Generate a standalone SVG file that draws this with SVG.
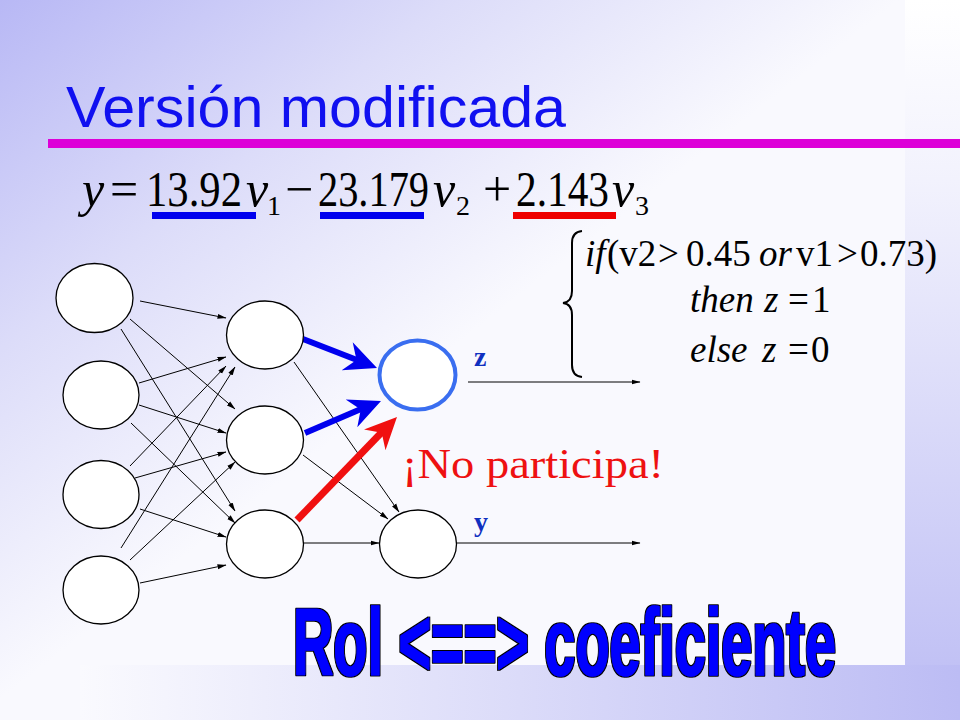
<svg xmlns="http://www.w3.org/2000/svg" width="960" height="720" viewBox="0 0 960 720">
<defs>
<linearGradient id="bg" gradientUnits="userSpaceOnUse" x1="0" y1="0" x2="339" y2="436">
<stop offset="0" stop-color="#b8b8f5"/>
<stop offset="0.5" stop-color="#dcdcf9"/>
<stop offset="1" stop-color="#f9f9fe"/>
</linearGradient>
<linearGradient id="rs" x1="0" y1="0" x2="0" y2="1">
<stop offset="0" stop-color="#ffffff"/>
<stop offset="0.25" stop-color="#f2f2fd"/>
<stop offset="1" stop-color="#bcbcf4"/>
</linearGradient>
<linearGradient id="bs" x1="0" y1="0" x2="1" y2="0">
<stop offset="0" stop-color="#fafafe"/>
<stop offset="1" stop-color="#bcbcf4"/>
</linearGradient>
<marker id="ah" markerWidth="9" markerHeight="6" refX="8.5" refY="3" orient="auto" markerUnits="userSpaceOnUse">
<path d="M0,0.5 L9,3 L0,5.5 Z" fill="#000"/>
</marker>
<filter id="outline" x="-10%" y="-30%" width="120%" height="160%">
<feMorphology in="SourceAlpha" operator="dilate" radius="1.2" result="d"/>
<feFlood flood-color="#000000"/>
<feComposite in2="d" operator="in" result="o"/>
<feMerge><feMergeNode in="o"/><feMergeNode in="SourceGraphic"/></feMerge>
</filter>
<style>
.node{fill:#ffffff;stroke:#000000;stroke-width:1.3}
.e{stroke:#000000;stroke-width:1;fill:none;marker-end:url(#ah)}
.serif{font-family:"Liberation Serif","Times New Roman",serif}
.it{font-style:italic}
</style>
</defs>

<rect x="0" y="0" width="960" height="720" fill="url(#bg)"/>
<rect x="905" y="0" width="55" height="720" fill="url(#rs)"/>
<rect x="80" y="665" width="880" height="55" fill="url(#bs)"/>

<text x="66" y="127" font-family="Liberation Sans, Arial, sans-serif" font-size="58" fill="#1010f0" textLength="500" lengthAdjust="spacingAndGlyphs">Versión modificada</text>
<rect x="48" y="139" width="912" height="9" fill="#dd00d8"/>

<g id="equation" class="serif" font-size="50" fill="#000">
<text x="82" y="206" class="it">y</text>
<text x="110" y="206">=</text>
<text x="146" y="206" textLength="96" lengthAdjust="spacingAndGlyphs">13.92</text>
<text x="246" y="206" class="it">v</text>
<text x="267" y="215" font-size="28">1</text>
<text x="285" y="206">−</text>
<text x="318" y="206" textLength="111" lengthAdjust="spacingAndGlyphs">23.179</text>
<text x="433" y="206" class="it">v</text>
<text x="456" y="215" font-size="28">2</text>
<text x="483" y="206">+</text>
<text x="516" y="206" textLength="93" lengthAdjust="spacingAndGlyphs">2.143</text>
<text x="612" y="206" class="it">v</text>
<text x="635" y="215" font-size="28">3</text>
<rect x="152" y="212" width="104" height="7" fill="#0000ee"/>
<rect x="320" y="212" width="104" height="7" fill="#0000ee"/>
<rect x="513" y="212" width="103" height="7" fill="#ee0000"/>
</g>

<g id="rule" class="serif" font-size="37" fill="#000">
<path d="M582,231 Q572,232 572,243 L572,291 Q572,302 563,303 Q572,304 572,315 L572,365 Q572,376 582,377" fill="none" stroke="#000" stroke-width="2"/>
<text y="266"><tspan x="585" class="it">if</tspan><tspan x="607">(v2</tspan><tspan x="658">&gt;</tspan><tspan x="686">0.45</tspan><tspan x="759" class="it">or</tspan><tspan x="796">v1</tspan><tspan x="837">&gt;</tspan><tspan x="860">0.73)</tspan></text>
<text y="312"><tspan x="690" class="it">then</tspan><tspan x="764" class="it">z</tspan><tspan x="788">=</tspan><tspan x="812">1</tspan></text>
<text y="362"><tspan x="690" class="it">else</tspan><tspan x="762" class="it">z</tspan><tspan x="788">=</tspan><tspan x="811">0</tspan></text>
</g>

<g id="connectors">
<line class="e" x1="140" y1="301" x2="226" y2="318"/>
<line class="e" x1="130" y1="319" x2="235" y2="409"/>
<line class="e" x1="121" y1="329" x2="235" y2="511"/>
<line class="e" x1="139" y1="383" x2="226" y2="357"/>
<line class="e" x1="139" y1="405" x2="226" y2="433"/>
<line class="e" x1="131" y1="423" x2="235" y2="523"/>
<line class="e" x1="130" y1="466" x2="226" y2="366"/>
<line class="e" x1="135" y1="478" x2="226" y2="452"/>
<line class="e" x1="140" y1="509" x2="226" y2="537"/>
<line class="e" x1="121" y1="548" x2="235" y2="367"/>
<line class="e" x1="130" y1="560" x2="235" y2="462"/>
<line class="e" x1="140" y1="583" x2="226" y2="565"/>
<line class="e" x1="294" y1="362" x2="399" y2="512"/>
<line class="e" x1="303" y1="455" x2="388" y2="519"/>
<line class="e" x1="303" y1="543" x2="379" y2="543"/>
<line class="e" x1="468" y1="382" x2="640" y2="382"/>
<line class="e" x1="457" y1="543" x2="640" y2="543"/>
<line x1="303" y1="339" x2="357" y2="360" stroke="#0000ee" stroke-width="6"/>
<polygon points="377,368 341.7,370.3 356.5,360 352.7,342.3" fill="#0000ee"/>
<line x1="305" y1="433" x2="361" y2="409" stroke="#0000ee" stroke-width="6"/>
<polygon points="381,401 357.3,427.2 360.7,409.5 345.7,399.6" fill="#0000ee"/>
<line x1="297" y1="520" x2="382" y2="432" stroke="#f01010" stroke-width="7"/>
<polygon points="397,417 385.5,450.3 381.7,432.8 364,429.5" fill="#f01010"/>
</g>

<g id="in1"><ellipse class="node" cx="94.5" cy="298" rx="38.5" ry="34.5"/></g>
<g id="in2"><ellipse class="node" cx="101" cy="395" rx="38" ry="34"/></g>
<g id="in3"><ellipse class="node" cx="101" cy="494.5" rx="38" ry="34"/></g>
<g id="in4"><ellipse class="node" cx="101" cy="590" rx="38" ry="34"/></g>
<g id="h1"><ellipse class="node" cx="265" cy="335" rx="38.5" ry="34"/></g>
<g id="h2"><ellipse class="node" cx="265" cy="440" rx="38.5" ry="34"/></g>
<g id="h3"><ellipse class="node" cx="265" cy="544" rx="38.5" ry="34"/></g>
<g id="outz"><ellipse cx="417.5" cy="375" rx="38" ry="34.5" fill="#ffffff" stroke="#3a6ef0" stroke-width="4"/></g>
<g id="outy"><ellipse class="node" cx="418" cy="544" rx="38.5" ry="34"/></g>

<text x="474" y="366" class="serif" font-size="28" font-weight="bold" fill="#1030c0">z</text>
<text x="474" y="531" class="serif" font-size="28" font-weight="bold" fill="#1030c0">y</text>
<text x="402" y="478" class="serif" font-size="43" fill="#ee1111" textLength="262" lengthAdjust="spacingAndGlyphs">¡No participa!</text>

<text x="293" y="675" font-family="Liberation Sans, Arial, sans-serif" font-weight="bold" font-size="95" fill="#0000ff" stroke="#0000ff" stroke-width="1.5" stroke-linejoin="round" textLength="543" lengthAdjust="spacingAndGlyphs" filter="url(#outline)">Rol &lt;==&gt; coeficiente</text>
</svg>
